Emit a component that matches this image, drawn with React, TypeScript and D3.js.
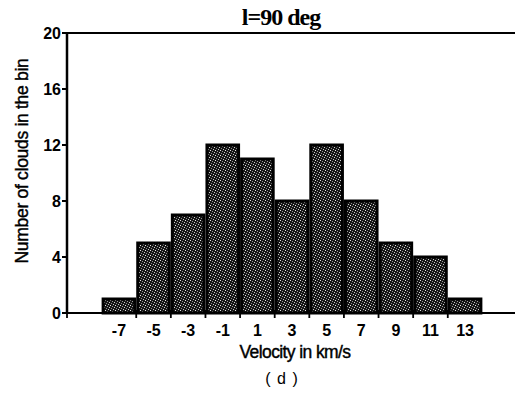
import React from "react";
import * as d3 from "d3";

const velocities = [-7, -5, -3, -1, 1, 3, 5, 7, 9, 11, 13];
const counts = [1, 5, 7, 12, 11, 8, 12, 8, 5, 4, 1];
const yTicks = [0, 4, 8, 12, 16, 20];
const binEdges = [-10, -6, -4, -2, 0, 2, 4, 6, 8, 10, 12];
const title = "l=90 deg";
const xLabel = "Velocity in km/s";
const yLabel = "Number of clouds in the bin";
const panel = "( d )";

export default function App() {
  const W = 515, H = 398;
  const x = d3.scaleLinear().domain([-10, 16]).range([67, 517]);
  const y = d3.scaleLinear().domain([0, 20]).range([313, 33]);
  const sans = "'Liberation Sans', Arial, Helvetica, sans-serif";
  const serif = "'Liberation Serif', 'Times New Roman', serif";
  return (
    <svg width={W} height={H} style={{ position: "absolute", left: 0, top: 0, background: "#fff" }}>
      <defs>
        <pattern id="stip" width={5} height={5} patternUnits="userSpaceOnUse">
          <rect width={5} height={5} fill="#161616" />
          <rect x={0} y={0} width={1} height={1} fill="#e8e8e8" />
          <rect x={2} y={1} width={1} height={1} fill="#9a9a9a" />
          <rect x={4} y={2} width={1} height={1} fill="#d0d0d0" />
          <rect x={1} y={3} width={1} height={1} fill="#8a8a8a" />
          <rect x={3} y={4} width={1} height={1} fill="#c8c8c8" />
        </pattern>
      </defs>
      {/* bars */}
      {velocities.map((v, i) => {
        const x0 = x(v - 1) + 1.5;
        const x1 = x(v + 1) - 1.5;
        const y0 = y(counts[i]);
        return (
          <rect key={v} x={x0} y={y0} width={x1 - x0} height={y(0) - y0}
            fill="url(#stip)" stroke="#000" strokeWidth={3} />
        );
      })}
      {/* axes frame */}
      <line x1={67} x2={515} y1={33} y2={33} stroke="#000" strokeWidth={2} />
      <line x1={67} x2={67} y1={32} y2={314} stroke="#000" strokeWidth={2.5} />
      <line x1={64} x2={515} y1={313} y2={313} stroke="#000" strokeWidth={2} />
      {/* y ticks */}
      {yTicks.map((t) => (
        <g key={t}>
          <line x1={62} x2={67} y1={y(t)} y2={y(t)} stroke="#000" strokeWidth={2} />
          <text x={61} y={y(t)} dy="0.36em" textAnchor="end" fontFamily={sans}
            fontWeight="bold" fontSize={16} fill="#000">{t}</text>
        </g>
      ))}
      {/* x ticks */}
      {binEdges.map((e) => (
        <line key={e} x1={x(e)} x2={x(e)} y1={310} y2={318}
          stroke="#000" strokeWidth={1.8} />
      ))}
      {velocities.map((v) => (
        <text key={v} x={x(v)} y={336} textAnchor="middle" fontFamily={sans}
          fontWeight="bold" fontSize={16} fill="#000">{v}</text>
      ))}
      <text x={295} y={358} textAnchor="middle" fontFamily={sans} fontSize={17.5}
        fill="#000" stroke="#000" strokeWidth={0.4} style={{ letterSpacing: "-0.6px" }}>{xLabel}</text>
      <text transform={`translate(28,161) rotate(-90)`} textAnchor="middle"
        fontFamily={sans} fontSize={17.5} fill="#000" stroke="#000" strokeWidth={0.4}
        style={{ letterSpacing: "-0.3px" }}>{yLabel}</text>
      <text x={281} y={25} textAnchor="middle" fontFamily={serif} fontWeight="bold"
        fontSize={24} fill="#000" style={{ letterSpacing: "-1px" }}>{title}</text>
      <text x={282} y={384} textAnchor="middle" fontFamily={sans} fontSize={16}
        fill="#000" style={{ letterSpacing: "1px" }}>{panel}</text>
    </svg>
  );
}
